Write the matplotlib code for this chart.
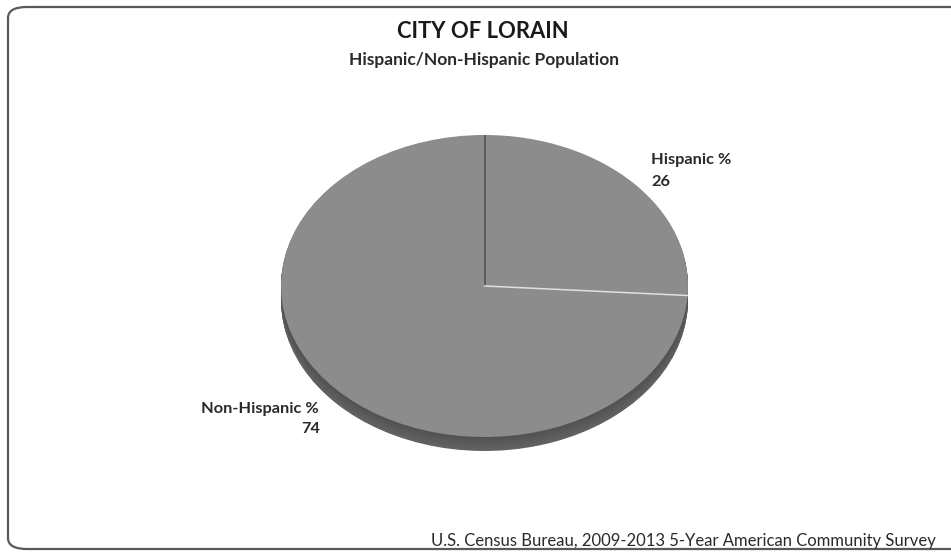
import numpy as np
import matplotlib
matplotlib.use("Agg")
import matplotlib.pyplot as plt
from matplotlib.patches import FancyBboxPatch

# Data
categories = ["Hispanic %", "Non-Hispanic %"]
values = [26, 74]
title = "CITY OF LORAIN"
subtitle = "Hispanic/Non-Hispanic Population"
source = "U.S. Census Bureau, 2009-2013 5-Year American Community Survey"

W, H = 951, 552
fig = plt.figure(figsize=(W / 100, H / 100), dpi=100)
fig.patch.set_facecolor("white")
plt.rcParams["font.family"] = ["Lato", "DejaVu Sans"]


def fx(x):
    return x / W


def fy(y):
    return 1 - y / H


# Rounded outer frame (runs past the right edge of the canvas)
frame = FancyBboxPatch((fx(8), fy(549)), fx(990) - fx(8), fy(7) - fy(549),
                       boxstyle="round,pad=0,rounding_size=0.02",
                       transform=fig.transFigure, fill=False,
                       edgecolor="#5a5a5a", linewidth=1.6, clip_on=False)
fig.patches.append(frame)

# Pie axes: tilted disc drawn as an ellipse with a thin side band
x0, x1 = 281, 688
y_top, y_face_bottom = 135, 437
thk_px = 14
b_px = (y_face_bottom - y_top) / 2
thk = thk_px / b_px
ax = fig.add_axes([fx(x0), fy(y_face_bottom + thk_px), fx(x1) - fx(x0),
                   (y_face_bottom + thk_px - y_top) / H])

top_color = "#8c8c8c"

# Side band: stacked copies of the pie shifted downward
n_layers = 20
for k in range(n_layers, 0, -1):
    shade = 0.32 + 0.07 * (k / n_layers)
    ax.pie(values, startangle=90, counterclock=False, radius=1,
           center=(0, -thk * k / n_layers),
           colors=[(shade, shade, shade)] * len(values),
           wedgeprops=dict(linewidth=0))

# Top face
wedges, _ = ax.pie(values, startangle=90, counterclock=False, radius=1,
                   center=(0, 0), colors=[top_color, top_color],
                   wedgeprops=dict(linewidth=0))

# Slice boundaries derived from the values
bounds = 90 - 360 * np.cumsum([0] + values[:-1]) / sum(values)
edge_cols = ["#505050", "#e0e0e0"]
for ang, ec in zip(bounds, edge_cols):
    r = np.deg2rad(ang)
    ax.plot([0, np.cos(r)], [0, np.sin(r)], color=ec, linewidth=1.1)

ax.set_aspect("auto")
ax.set_xlim(-1, 1)
ax.set_ylim(-1 - thk, 1)
ax.axis("off")

# Titles
fig.text(fx(483), fy(31), title, ha="center", va="center",
         fontsize=15.8, fontweight="bold", color="#1a1a1a")
fig.text(fx(484), fy(60), subtitle, ha="center", va="center",
         fontsize=12.5, fontweight="bold", color="#2a2a2a")

# Data labels
lab_kw = dict(fontsize=11.8, fontweight="bold", color="#2a2a2a", va="center")
fig.text(fx(651), fy(160), categories[0], ha="left", **lab_kw)
fig.text(fx(651), fy(182), str(values[0]), ha="left", **lab_kw)
fig.text(fx(319), fy(409), categories[1], ha="right", **lab_kw)
fig.text(fx(320), fy(429), str(values[1]), ha="right", **lab_kw)

# Source note
fig.text(fx(431), fy(541), source, ha="left", va="center",
         fontsize=12.0, color="#2a2a2a")

fig.savefig("out.png", dpi=100, facecolor="white")
